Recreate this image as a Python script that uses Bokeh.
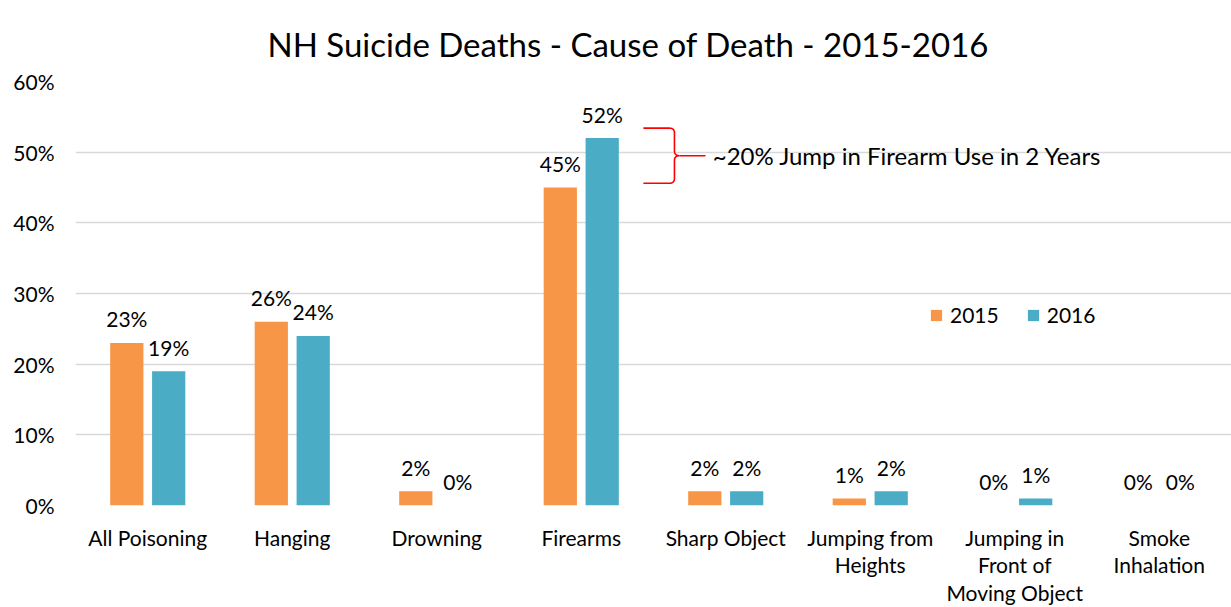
import numpy as np
from bokeh.plotting import figure
from bokeh.models import Range1d, FixedTicker, PrintfTickFormatter, ColumnDataSource
from bokeh.core.properties import value
from bokeh.embed import file_html
from bokeh.resources import INLINE

# ---------------- data ----------------
categories = ["All Poisoning", "Hanging", "Drowning", "Firearms", "Sharp Object",
              "Jumping from Heights", "Jumping in Front of Moving Object", "Smoke Inhalation"]
category_labels = ["All Poisoning", "Hanging", "Drowning", "Firearms", "Sharp Object",
                   "Jumping from\nHeights", "Jumping in\nFront of\nMoving Object", "Smoke\nInhalation"]
values_2015 = [23, 26, 2, 45, 2, 1, 0, 0]
values_2016 = [19, 24, 0, 52, 2, 2, 1, 0]
series_names = ["2015", "2016"]
y_ticks = [0, 10, 20, 30, 40, 50, 60]
title_text = "NH Suicide Deaths - Cause of Death - 2015-2016"
annotation_text = "~20% Jump in Firearm Use in 2 Years"
annotated_category = "Firearms"

# ---------------- style ----------------
FONT = "Lato"
FS = "21px"
C2015 = "#F79646"
C2016 = "#4BACC6"
TXT = "#000000"
GRID = "#D9D9D9"
BAR_W = 0.23
OFF = 0.145

n = len(categories)
centers = np.arange(n) + 0.5

p = figure(width=1231, height=607, output_backend="svg", toolbar_location=None,
           x_range=Range1d(0, n), y_range=Range1d(0, 60),
           min_border_left=75, min_border_right=0, min_border_top=81, min_border_bottom=100)
p.outline_line_color = None
p.background_fill_color = "white"

# title
p.title.text = title_text
p.title.text_font = FONT
p.title.text_font_size = "33px"
p.title.text_font_style = "normal"
p.title.text_color = TXT
p.title.align = "left"
p.title.offset = 192
p.title.vertical_align = "bottom"
p.title.standoff = 35

src15 = ColumnDataSource(dict(x=centers - OFF, top=values_2015,
                              lab=[f"{v}%" for v in values_2015]))
src16 = ColumnDataSource(dict(x=centers + OFF, top=values_2016,
                              lab=[f"{v}%" for v in values_2016]))

p.vbar(x="x", top="top", width=BAR_W, bottom=0, source=src15, fill_color=C2015,
       line_color=None, legend_label=series_names[0])
p.vbar(x="x", top="top", width=BAR_W, bottom=0, source=src16, fill_color=C2016,
       line_color=None, legend_label=series_names[1])

for s in (src15, src16):
    p.text(x="x", y="top", text="lab", source=s, text_align="center",
           text_baseline="middle", y_offset=-24, text_font=value(FONT),
           text_font_size=FS, text_color=TXT)

# axes
p.xaxis.ticker = FixedTicker(ticks=list(centers))
p.xaxis.major_label_overrides = {float(c): lab for c, lab in zip(centers, category_labels)}
p.xaxis.axis_line_color = None
p.xaxis.major_tick_line_color = None
p.xaxis.minor_tick_line_color = None
p.xaxis.major_label_standoff = 13
p.xaxis.major_label_text_line_height = 1.1
p.xaxis.major_label_text_font = FONT
p.xaxis.major_label_text_font_size = FS
p.xaxis.major_label_text_color = TXT

p.yaxis.ticker = FixedTicker(ticks=y_ticks)
p.yaxis.formatter = PrintfTickFormatter(format="%d%%")
p.yaxis.axis_line_color = None
p.yaxis.major_tick_line_color = None
p.yaxis.minor_tick_line_color = None
p.yaxis.major_label_standoff = 15
p.yaxis.major_label_text_font = FONT
p.yaxis.major_label_text_font_size = FS
p.yaxis.major_label_text_color = TXT

p.xgrid.grid_line_color = None
p.ygrid.ticker = FixedTicker(ticks=y_ticks)
p.ygrid.grid_line_color = GRID
p.ygrid.grid_line_width = 1.5

# legend
p.legend.orientation = "horizontal"
p.legend.location = (854, 178)
p.legend.glyph_width = 14
p.legend.glyph_height = 14
p.legend.label_standoff = 7
p.legend.spacing = 27
p.legend.padding = 0
p.legend.margin = 0
p.legend.border_line_color = None
p.legend.background_fill_alpha = 0
p.legend.label_text_font = FONT
p.legend.label_text_font_size = FS
p.legend.label_text_color = TXT

# brace annotation on the Firearms bars
i = categories.index(annotated_category)
y_top = values_2016[i] + 1.4
y_bot = values_2015[i] + 0.6
y_mid = (y_top + y_bot) / 2
xa = i + 0.93
xb = i + 1.145
xc = i + 1.36
rx, ry = 0.035, 0.7

def quad(p0, p1, p2, m=12):
    t = np.linspace(0, 1, m)[:, None]
    P0, P1, P2 = map(np.array, (p0, p1, p2))
    return (1 - t) ** 2 * P0 + 2 * (1 - t) * t * P1 + t ** 2 * P2

pts = [np.array([[xa, y_top], [xb - rx, y_top]]),
       quad((xb - rx, y_top), (xb, y_top), (xb, y_top - ry)),
       np.array([[xb, y_top - ry], [xb, y_mid + ry]]),
       quad((xb, y_mid + ry), (xb, y_mid), (xb + rx, y_mid)),
       quad((xb + rx, y_mid), (xb, y_mid), (xb, y_mid - ry)),
       np.array([[xb, y_mid - ry], [xb, y_bot + ry]]),
       quad((xb, y_bot + ry), (xb, y_bot), (xb - rx, y_bot)),
       np.array([[xb - rx, y_bot], [xa, y_bot]])]
path = np.vstack(pts)
p.line(path[:, 0], path[:, 1], line_color="#FF0000", line_width=1.6)
p.segment(x0=[xb + rx], y0=[y_mid], x1=[xc], y1=[y_mid], line_color="#FF0000", line_width=1.6)
p.text(x=[xc + 0.05], y=[y_mid], text=[annotation_text], text_align="left",
       text_baseline="middle", text_font=value(FONT), text_font_size="24px", text_color=TXT)

open("out.html", "w").write(file_html(p, INLINE))
